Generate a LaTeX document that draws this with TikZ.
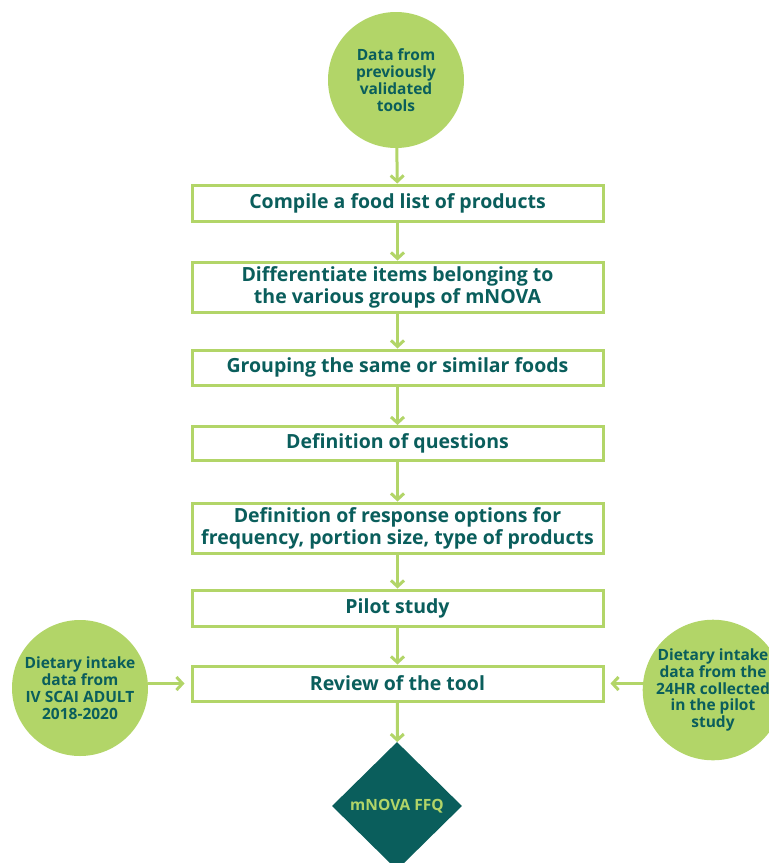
\documentclass[tikz,border=0pt]{standalone}
\usepackage{fontspec}
\setmainfont{Open Sans}
\usetikzlibrary{arrows.meta,shapes.geometric}
\definecolor{leaf}{RGB}{178,213,104}
\definecolor{teal}{RGB}{10,94,92}
\tikzset{
  stepbox/.style={draw=leaf, line width=3pt, fill=white, minimum width=411pt,
    align=center, text=teal, font=\bfseries\fontsize{19.5}{22}\selectfont, inner sep=0pt},
  source/.style={circle, fill=leaf, minimum size=136pt, inner sep=0pt, align=center,
    text=teal, font=\bfseries\fontsize{15.5}{16.8}\selectfont},
  flow/.style={draw=leaf, line width=3pt, -{Straight Barb[length=6pt,width=13pt,line width=3pt]}},
}
\begin{document}
\begin{tikzpicture}[x=1pt,y=-1pt]
\useasboundingbox (0,0) rectangle (769,863);
\begin{scope}
\clip (0,0) rectangle (769,863);
\node[source] (src) at (396,80) {Data from\\previously\\validated\\tools};
\node[stepbox, minimum height=36pt] (s1) at (397.5,203) {Compile a food list of products};
\node[stepbox, minimum height=50pt] (s2) at (397.5,287) {Differentiate items belonging to\\the various groups of mNOVA};
\node[stepbox, minimum height=35pt] (s3) at (397.5,367.5) {Grouping the same or similar foods};
\node[stepbox, minimum height=34pt] (s4) at (397.5,443.5) {Definition of questions};
\node[stepbox, minimum height=50pt] (s5) at (397.5,528) {Definition of response options for\\frequency, portion size, type of products};
\node[stepbox, minimum height=36pt] (s6) at (397.5,608) {Pilot study};
\node[stepbox, minimum height=35pt] (s7) at (397.5,683.5) {Review of the tool};
\node[source] (left) at (80,688) {Dietary intake\\data from\\IV SCAI ADULT\\2018-2020};
\node[source] (right) at (713,690) {Dietary intake\\data from the\\24HR collected\\in the pilot\\study};
\node[diamond, fill=teal, minimum width=130pt, minimum height=128pt, inner sep=0pt,
  text=leaf, font=\bfseries\fontsize{15.5}{16}\selectfont] (ffq) at (397,806) {mNOVA FFQ};
\draw[flow] (src) -- (s1);
\draw[flow] (s1) -- (s2);
\draw[flow] (s2) -- (s3);
\draw[flow] (s3) -- (s4);
\draw[flow] (s4) -- (s5);
\draw[flow] (s5) -- (s6);
\draw[flow] (s6) -- (s7);
\draw[flow] (s7) -- (ffq);
\draw[flow] (left.east |- s7) -- ([xshift=-6pt]s7.west);
\draw[flow] (right.west |- s7) -- ([xshift=6pt]s7.east);
\end{scope}
\end{tikzpicture}
\end{document}
